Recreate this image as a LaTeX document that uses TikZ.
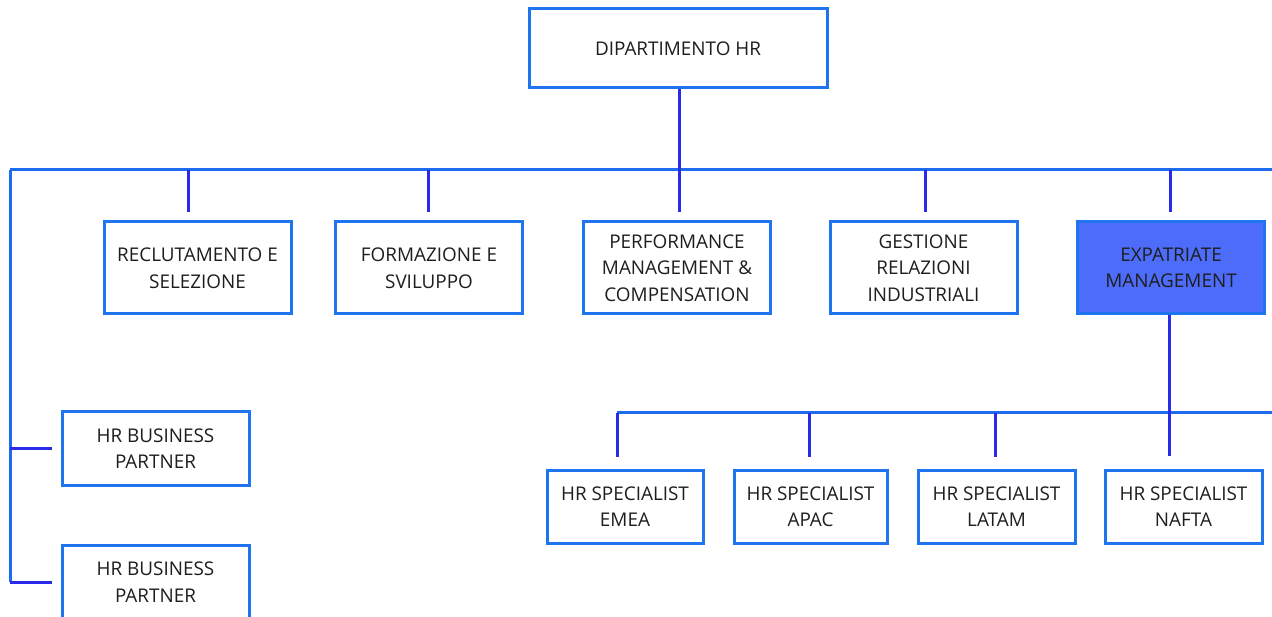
\documentclass[tikz,border=0pt]{standalone}
\usepackage{fontspec}
\setmainfont{Open Sans}
\usetikzlibrary{calc}
\definecolor{boxblue}{HTML}{1F74F0}
\definecolor{busblue}{HTML}{1F6BF0}
\definecolor{dropblue}{HTML}{2A2AEB}
\definecolor{fillblue}{HTML}{4D6CFA}
\definecolor{txt}{HTML}{1E1E1E}
\begin{document}
\begin{tikzpicture}[x=1pt,y=-1pt,
  unit/.style={draw=boxblue, line width=3pt, fill=white, align=center,
    inner sep=0pt, text=txt, font=\fontsize{18.9}{26.5}\selectfont},
  wide/.style={unit, minimum width=187pt, minimum height=92pt},
  small/.style={unit, minimum height=73pt},
  bus/.style={draw=busblue, line width=3pt},
  drop/.style={draw=dropblue, line width=3pt}]
\useasboundingbox (0,0) rectangle (1272,617);

% top of the chart
\node[unit, minimum width=298pt, minimum height=79pt] (top) at (678,48.5) {DIPARTIMENTO HR};

% second level
\node[wide] (rec)  at (197.5,268) {RECLUTAMENTO E\\SELEZIONE};
\node[wide] (form) at (429,268)   {FORMAZIONE E\\SVILUPPO};
\node[wide] (perf) at (677,268)   {PERFORMANCE\\MANAGEMENT \&\\COMPENSATION};
\node[wide] (gest) at (923.5,268) {GESTIONE\\RELAZIONI\\INDUSTRIALI};
\node[wide, fill=fillblue] (exp) at (1171,268) {EXPATRIATE\\MANAGEMENT};

% business partners on the left
\node[small, minimum width=187pt] (bp1) at (155.5,448.5) {HR BUSINESS\\PARTNER};
\node[small, minimum width=187pt] (bp2) at (155.5,582)   {HR BUSINESS\\PARTNER};

% regional specialists
\node[small, minimum width=156pt] (emea)  at (625,506.5)    {HR SPECIALIST\\EMEA};
\node[small, minimum width=153pt] (apac)  at (810.5,506.5)  {HR SPECIALIST\\APAC};
\node[small, minimum width=157pt] (latam) at (996.5,506.5)  {HR SPECIALIST\\LATAM};
\node[small, minimum width=157pt] (nafta) at (1183.5,506.5) {HR SPECIALIST\\NAFTA};

% main bus
\coordinate (busL) at (10,170);
\coordinate (busR) at (1272,170);
\draw[bus] (busL) -- (busR);
\draw[drop] ([xshift=1pt]top.south) -- ([xshift=1pt]top.south |- busL);

% drops to second level
\draw[drop] ([xshift=-9.5pt]rec.north |- busL) -- ([xshift=-9.5pt,yshift=8pt]rec.north);
\draw[drop] ([xshift=-1pt]form.north |- busL) -- ([xshift=-1pt,yshift=8pt]form.north);
\draw[drop] ([xshift=2pt]perf.north |- busL) -- ([xshift=2pt,yshift=8pt]perf.north);
\draw[drop] ([xshift=1.5pt]gest.north |- busL) -- ([xshift=1.5pt,yshift=8pt]gest.north);
\draw[drop] ([xshift=-1pt]exp.north |- busL) -- ([xshift=-1pt,yshift=8pt]exp.north);

% left branch to the business partners
\draw[bus] (busL) -- (busL |- bp2.west);
\draw[drop] (busL |- bp1.west) -- ([xshift=-9pt]bp1.west);
\draw[drop] (busL |- bp2.west) -- ([xshift=-9pt]bp2.west);

% expatriate sub-bus
\coordinate (sbL) at (617,413);
\coordinate (sbR) at (1272,413);
\draw[bus] (sbL) -- (sbR);
\draw[drop] ([xshift=-2pt]exp.south) -- ([xshift=-2pt,yshift=13pt]exp.south |- nafta.north);
\draw[drop] (sbL) -- ([xshift=-8pt,yshift=12pt]emea.north);
\draw[drop] ([xshift=-1.5pt]apac.north |- sbL) -- ([xshift=-1.5pt,yshift=12pt]apac.north);
\draw[drop] ([xshift=-1.5pt]latam.north |- sbL) -- ([xshift=-1.5pt,yshift=12pt]latam.north);
\end{tikzpicture}
\end{document}
